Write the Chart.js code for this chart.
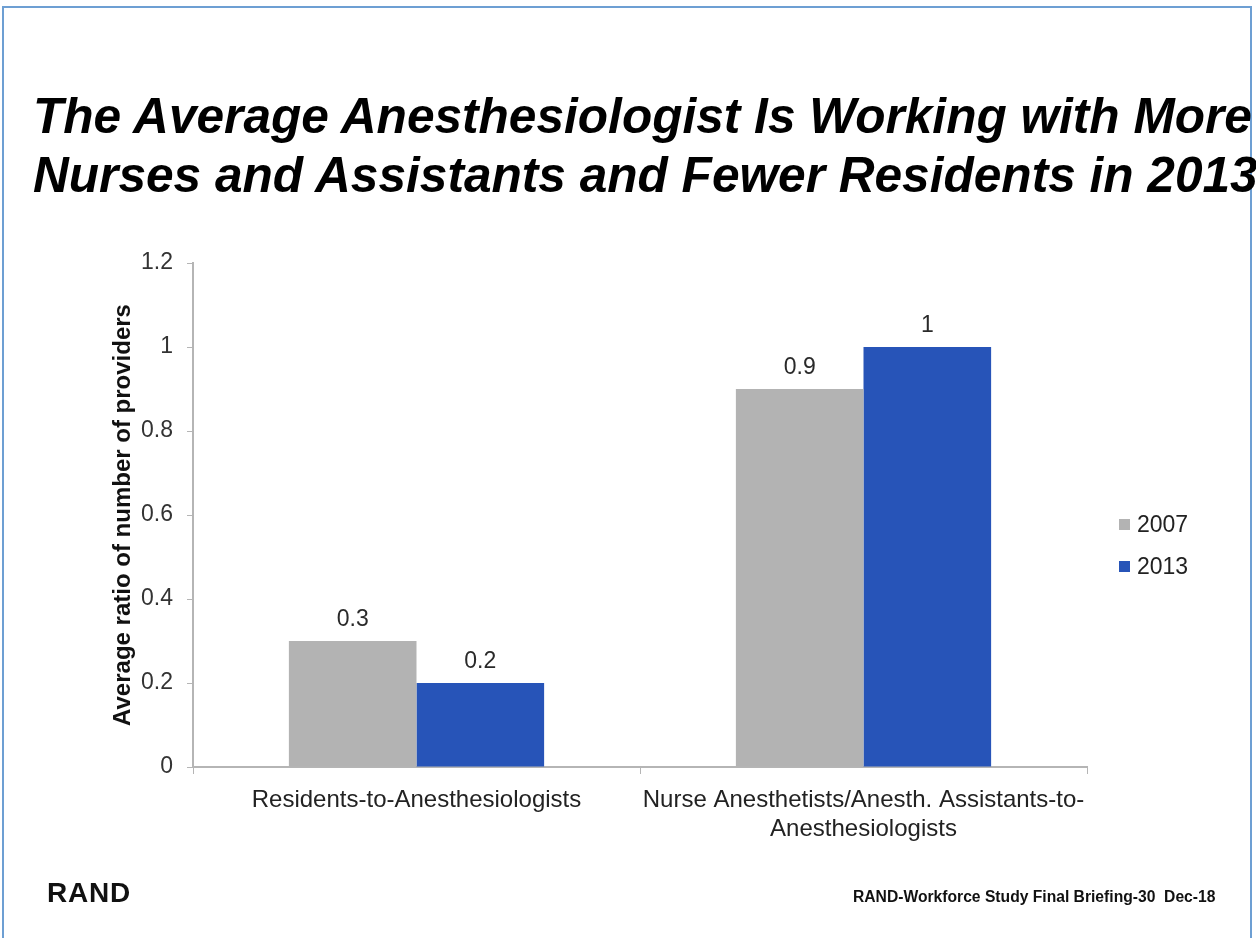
<!DOCTYPE html>
<html>
<head>
<meta charset="utf-8">
<script src="https://cdn.jsdelivr.net/npm/chart.js@4/dist/chart.umd.min.js"></script>
<style>
  html, body { margin: 0; padding: 0; background: #fff; }
  body { width: 1256px; height: 938px; position: relative; overflow: hidden; font-family: "Liberation Sans", Arial, sans-serif; }
  #frame { position: absolute; left: 2px; top: 6px; width: 1250px; height: 960px; border: 2px solid #6d9fd3; box-sizing: border-box; }
  #title { position: absolute; left: 33px; top: 87px; font-weight: bold; font-style: italic; font-size: 49.6px; line-height: 59px; color: #000; white-space: nowrap; }
  #chart { position: absolute; left: 0; top: 0; }
  #legend { position: absolute; left: 1119px; top: 508px; font-size: 23px; color: #222; }
  .lg { height: 42px; line-height: 32px; white-space: nowrap; }
  .sw { display: inline-block; width: 11px; height: 11px; margin-right: 7px; vertical-align: 2px; }
  #rand { position: absolute; left: 47px; top: 876px; font-weight: bold; font-size: 28px; line-height: 34px; color: #111; letter-spacing: 0.8px; }
  #foot { position: absolute; left: 853px; top: 887px; font-weight: bold; font-size: 16px; line-height: 19px; color: #111; white-space: pre; transform-origin: 0 0; }
</style>
</head>
<body>
<div id="frame"></div>
<div id="title">The Average Anesthesiologist Is Working with More<br>Nurses and Assistants and Fewer Residents in 2013</div>
<canvas id="chart" width="1256" height="938"></canvas>
<div id="legend"></div>
<div id="rand">RAND</div>
<div id="foot">RAND-Workforce Study Final Briefing-30  Dec-18</div>
<script>
const categories = [
  "Residents-to-Anesthesiologists",
  ["Nurse Anesthetists/Anesth. Assistants-to-", "Anesthesiologists"]
];
const seriesNames = ["2007", "2013"];
const values2007 = [0.3, 0.9];
const values2013 = [0.2, 1];
const yTickLabels = ["0", "0.2", "0.4", "0.6", "0.8", "1", "1.2"];
const yAxisTitle = "Average ratio of number of providers";

const colors = ["#b3b3b3", "#2754b8"];

const dataLabels = {
  id: "dataLabels",
  afterDatasetsDraw(chart) {
    const ctx = chart.ctx;
    ctx.save();
    ctx.font = '23px "Liberation Sans", Arial, sans-serif';
    ctx.fillStyle = "#2a2a2a";
    ctx.textAlign = "center";
    ctx.textBaseline = "alphabetic";
    chart.data.datasets.forEach((ds, i) => {
      chart.getDatasetMeta(i).data.forEach((el, j) => {
        ctx.fillText(String(ds.data[j]), el.x, el.y - 15);
      });
    });
    ctx.restore();
  }
};

const chart = new Chart(document.getElementById("chart"), {
  type: "bar",
  data: {
    labels: categories,
    datasets: [
      { label: seriesNames[0], data: values2007, backgroundColor: colors[0], categoryPercentage: 0.571, barPercentage: 1.0 },
      { label: seriesNames[1], data: values2013, backgroundColor: colors[1], categoryPercentage: 0.571, barPercentage: 1.0 }
    ]
  },
  options: {
    responsive: false,
    animation: false,
    devicePixelRatio: 1,
    layout: { padding: { left: 100, right: 169, top: 263, bottom: 71 } },
    plugins: { legend: { display: false }, tooltip: { enabled: false } },
    scales: {
      x: {
        grid: { display: true, drawOnChartArea: false, drawTicks: true, tickLength: 7, color: "#b5b5b5", offset: true },
        border: { display: true, color: "#b5b5b5", width: 2 },
        ticks: { color: "#222", font: { family: '"Liberation Sans", Arial, sans-serif', size: 24, lineHeight: 1.2 }, padding: 12, maxRotation: 0, autoSkip: false },
        afterFit(scale) { scale.height = 100; }
      },
      y: {
        min: 0, max: 1.2,
        grid: { display: true, drawOnChartArea: false, drawTicks: true, tickLength: 6, color: "#b5b5b5" },
        border: { display: true, color: "#b5b5b5", width: 2 },
        ticks: {
          stepSize: 0.2,
          color: "#333",
          font: { family: '"Liberation Sans", Arial, sans-serif', size: 23 },
          padding: 14,
          callback: (v, i) => yTickLabels[i]
        },
        title: {
          display: true, text: yAxisTitle, color: "#111",
          font: { family: '"Liberation Sans", Arial, sans-serif', size: 24, weight: "bold" },
          padding: { top: 9, bottom: 0 }
        },
        afterFit(scale) { scale.width = 93; }
      }
    }
  },
  plugins: [dataLabels]
});

// HTML legend built from the datasets
const lg = document.getElementById("legend");
chart.data.datasets.forEach(ds => {
  const row = document.createElement("div");
  row.className = "lg";
  const sw = document.createElement("span");
  sw.className = "sw";
  sw.style.background = ds.backgroundColor;
  row.appendChild(sw);
  row.appendChild(document.createTextNode(ds.label));
  lg.appendChild(row);
});

const foot = document.getElementById("foot");
foot.style.transform = "scaleX(" + (362 / foot.offsetWidth) + ")";
</script>
</body>
</html>
